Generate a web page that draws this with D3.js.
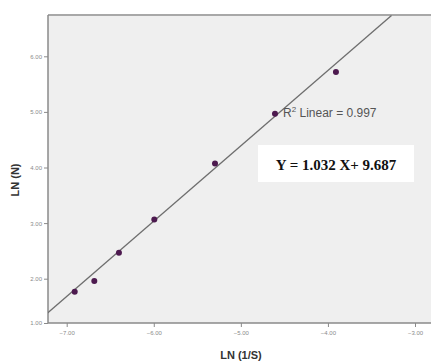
<!DOCTYPE html>
<html>
<head>
<meta charset="utf-8">
<script src="https://cdn.jsdelivr.net/npm/d3@7"></script>
<style>
  body { margin: 0; background: #fff; }
  svg { display: block; }
</style>
</head>
<body>
<div id="chart"></div>
<script>
// observed points, LN(1/S) vs LN(N)
const lnInvS = [-6.908, -6.683, -6.400, -5.994, -5.297, -4.608, -3.908]
const lnN = [1.707, 1.948, 2.467, 3.066, 4.072, 4.966, 5.716]

// fit line end points, as drawn
const fitX = [-7.22, -3.27]
const fitY = [1.226, 6.734]

const xTicks = [-7, -6, -5, -4, -3]
const yTicks = [1, 2, 3, 4, 5, 6]

const width = 431
const height = 362
const plotLeft = 48, plotTop = 15, plotBottom = 323, plotRight = 436

const svg = d3.select('#chart').append('svg')
  .attr('width', width)
  .attr('height', height)

const x = d3.scaleLinear().domain([-7, -3]).range([66.7, 415])
// the picture's y axis is not evenly spaced below 2.00
const y = d3.scaleLinear().domain([1, 2, 6]).range([plotBottom, 278.7, 56.3])

svg.append('clipPath').attr('id', 'plotclip')
  .append('rect')
  .attr('x', plotLeft).attr('y', plotTop)
  .attr('width', plotRight - plotLeft).attr('height', plotBottom - plotTop)

// plot background
svg.append('rect')
  .attr('x', plotLeft).attr('y', plotTop)
  .attr('width', plotRight - plotLeft).attr('height', plotBottom - plotTop)
  .attr('fill', '#efefef')

svg.append('line')
  .attr('x1', plotLeft).attr('x2', width)
  .attr('y1', plotTop).attr('y2', plotTop)
  .attr('stroke', '#a8a8a8').attr('stroke-width', 2)

// axes
const xAxis = svg.append('g')
  .attr('transform', `translate(0,${plotBottom})`)
  .call(d3.axisBottom(x).tickValues(xTicks).tickSize(4).tickPadding(4).tickFormat(d3.format('.2f')))
xAxis.select('.domain').remove()
xAxis.append('line')
  .attr('x1', plotLeft).attr('x2', width)
  .attr('stroke', '#8a8a8a').attr('stroke-width', 1.5)

const yAxis = svg.append('g')
  .attr('transform', `translate(${plotLeft},0)`)
  .call(d3.axisLeft(y).tickValues(yTicks).tickSize(4).tickPadding(2).tickFormat(d3.format('.2f')))
yAxis.select('.domain').remove()
yAxis.append('line')
  .attr('y1', plotTop).attr('y2', plotBottom)
  .attr('stroke', '#8a8a8a').attr('stroke-width', 1.5)

svg.selectAll('.tick line').attr('stroke', '#8a8a8a')
svg.selectAll('.tick text')
  .attr('fill', '#8a8a8a')
  .style('font-family', 'Liberation Sans, Arial, sans-serif')
  .style('font-size', '6px')

// fit line
svg.append('line')
  .attr('clip-path', 'url(#plotclip)')
  .attr('x1', x(fitX[0])).attr('y1', y(fitY[0]))
  .attr('x2', x(fitX[1])).attr('y2', y(fitY[1]))
  .attr('stroke', '#6e6e6e')
  .attr('stroke-width', 1.3)

// points
svg.append('g')
  .selectAll('circle')
  .data(lnInvS.map((v, i) => [v, lnN[i]]))
  .join('circle')
  .attr('cx', d => x(d[0]))
  .attr('cy', d => y(d[1]))
  .attr('r', 3)
  .attr('fill', '#4d1a4f')

// R squared label
const r2 = svg.append('text')
  .attr('x', 283).attr('y', 117)
  .attr('fill', '#555')
  .style('font-family', 'Liberation Sans, Arial, sans-serif')
  .style('font-size', '12px')
r2.append('tspan').text('R')
r2.append('tspan').attr('dy', -5).style('font-size', '8px').text('2')
r2.append('tspan').attr('dy', 5).text(' Linear = 0.997')

// equation box
svg.append('rect')
  .attr('x', 258).attr('y', 145)
  .attr('width', 156).attr('height', 37)
  .attr('fill', '#fff')
svg.append('text')
  .attr('x', 336).attr('y', 170)
  .attr('text-anchor', 'middle')
  .attr('fill', '#111')
  .style('font-family', 'Liberation Serif, Times New Roman, serif')
  .style('font-weight', 'bold')
  .style('font-size', '15px')
  .text('Y = 1.032 X+ 9.687')

// axis titles
svg.append('text')
  .attr('x', 241).attr('y', 359)
  .attr('text-anchor', 'middle')
  .attr('fill', '#333')
  .style('font-family', 'Liberation Sans, Arial, sans-serif')
  .style('font-weight', 'bold')
  .style('font-size', '11px')
  .text('LN (1/S)')

svg.append('text')
  .attr('transform', 'translate(19,180) rotate(-90)')
  .attr('text-anchor', 'middle')
  .attr('fill', '#333')
  .style('font-family', 'Liberation Sans, Arial, sans-serif')
  .style('font-weight', 'bold')
  .style('font-size', '11px')
  .text('LN (N)')
</script>
</body>
</html>
